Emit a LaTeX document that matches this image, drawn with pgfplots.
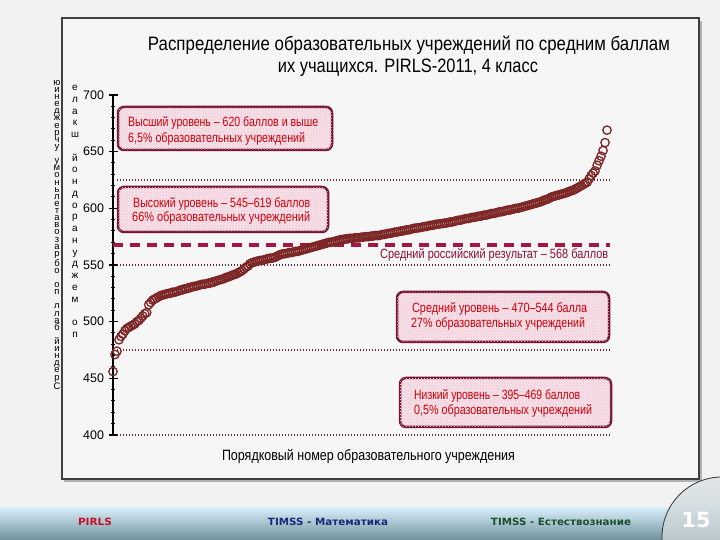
\documentclass[border=0pt]{standalone}
\usepackage{pgfplots}
\pgfplotsset{compat=1.18}
\usepackage{pgfplotstable}
\usepackage{fontspec}
\setmainfont{Liberation Sans}
\newfontfamily\dejavu{DejaVu Sans}
\usetikzlibrary{patterns}
\newcommand\fitw[2]{\resizebox{#1}{\height}{#2}}
\definecolor{bgcol}{RGB}{242,242,242}
\definecolor{framefill}{RGB}{246,246,246}
\definecolor{ptcol}{RGB}{125,38,38}
\definecolor{dotcol}{RGB}{100,45,60}
\definecolor{dashcol}{RGB}{165,22,68}
\definecolor{boxborder}{RGB}{120,18,52}
\definecolor{boxfill}{RGB}{244,212,222}
\definecolor{boxtext}{RGB}{205,0,10}
\definecolor{meancol}{RGB}{140,16,56}
\definecolor{footA}{RGB}{214,237,249}
\definecolor{footB}{RGB}{160,190,200}
\definecolor{footC}{RGB}{112,145,155}
\definecolor{circA}{RGB}{224,230,232}
\definecolor{circB}{RGB}{168,186,192}
\definecolor{pirls}{RGB}{200,16,40}
\definecolor{timssm}{RGB}{26,40,120}
\definecolor{timsse}{RGB}{28,80,44}

\pgfplotstableread[row sep=\\]{
s\\456\\471\\474\\484\\487\\489\\492\\494\\495\\496\\
497\\498\\500\\501\\503\\505\\507\\508\\515\\517\\
519\\520\\521\\522\\523\\523.5\\524\\524.5\\525\\525\\
526\\526\\526.5\\527\\528\\528\\529\\529\\530\\530\\
531\\531\\531.5\\532\\532.5\\533\\533\\533.5\\534\\534\\
535\\535\\536\\536.5\\537\\537.5\\538\\539\\539.5\\540\\
541\\541.5\\542\\543\\544\\545\\546.5\\548\\549\\551\\
552\\552.5\\553\\553.5\\554\\554\\554.5\\555\\555.5\\556\\
556\\556.5\\557\\558\\559\\559.5\\560\\560\\560.5\\561\\
561\\561.5\\562\\562\\562.5\\563\\563.5\\564\\564.5\\565\\
565.5\\566\\566.5\\567\\567.5\\568\\568.5\\569\\569.5\\570\\
570\\570.5\\571\\571.5\\572\\572.5\\572.5\\573\\573\\573.5\\
573.5\\573.5\\574\\574\\574\\574.5\\574.5\\575\\575\\575\\
575.5\\575.5\\576\\576\\576\\576.5\\577\\577\\577.5\\578\\
578\\578.5\\579\\579\\579.5\\580\\580\\580.5\\581\\581\\
581.5\\582\\582.5\\582.5\\583\\583\\583.5\\584\\584\\584.5\\
585\\585\\585.5\\586\\586\\586.5\\586.5\\587\\587\\587.5\\
588\\588\\588.5\\589\\589.5\\589.5\\590\\590.5\\591\\591\\
591.5\\592\\592\\592.5\\593\\593\\593.5\\594\\594\\594.5\\
595\\595.5\\595.5\\596\\596.5\\597\\597\\597.5\\598\\598.5\\
598.5\\599\\599.5\\600\\600\\600.5\\601\\601.5\\602\\602.5\\
603\\603.5\\604\\604.5\\605\\605.5\\606\\607\\607.5\\608\\
609\\610\\610.5\\611\\611.5\\612\\612.5\\613\\613.5\\614\\
615\\615.5\\616\\617\\618\\619\\620\\621\\622\\623\\
626\\629\\631\\633\\638\\642\\646\\651\\658\\669\\
}\scores

\begin{document}
\begin{tikzpicture}
\path[use as bounding box] (0,0) rectangle (720bp,540bp);
\clip (0,0) rectangle (720bp,540bp);
\fill[bgcol] (0,0) rectangle (720bp,540bp);
% footer band
\shade[top color=footA, middle color=footB, bottom color=footC] (0bp,0bp) rectangle (720bp,32bp);
\begin{scope}[x=1bp,y=-1bp,shift={(0bp,540bp)}]
  \fill[black!30] (64,21) rectangle (702,482);
  \filldraw[fill=framefill, draw=black!75, line width=1.2bp] (62,18) rectangle (699,479);
\end{scope}

\begin{axis}[
  at={(113bp,105bp)}, anchor=south west,
  scale only axis, width=497bp, height=340bp,
  xmin=0, xmax=250.5, ymin=400, ymax=700,
  clip=false,
  axis y line*=left, axis x line=none,
  y axis line style={line width=1.8bp, black},
  ytick={400,450,...,700}, minor y tick num=4,
  tick align=center,
  major tick length=9bp, minor tick length=4.5bp,
  every tick/.style={black, line width=1.3bp},
  every minor tick/.append style={line width=1bp},
  /pgf/number format/assume math mode=true,
  yticklabel style={font=\fontsize{12.5}{12.5}\selectfont, xshift=-1bp},
  xtick=\empty,
]
\addplot[dotcol, line width=1.3bp, dash pattern=on 1.2bp off 1.8bp] coordinates {(2,625) (250.5,625)};
\addplot[dotcol, line width=1.3bp, dash pattern=on 1.2bp off 1.8bp] coordinates {(2,550) (250.5,550)};
\addplot[dotcol, line width=1.3bp, dash pattern=on 1.2bp off 1.8bp] coordinates {(2,475) (250.5,475)};
\addplot[dotcol, line width=1.3bp, dash pattern=on 1.2bp off 1.8bp] coordinates {(2,400) (250.5,400)};
\addplot[dashcol, line width=4bp, dash pattern=on 10bp off 7bp] coordinates {(0,568) (250.5,568)};
\addplot[only marks, mark=o, mark size=4.2bp, mark options={draw=ptcol, line width=1.3bp}] table[x expr=\coordindex, y=s] {\scores};
\end{axis}

\begin{scope}[x=1bp,y=-1bp,shift={(0bp,540bp)}]
  % title
  \node[inner sep=0] at (409,45) {\fitw{522bp}{\fontsize{19.5}{20}\selectfont Распределение образовательных учреждений по средним баллам}};
  \node[inner sep=0] at (408,68) {\fitw{260bp}{\fontsize{19.5}{20}\selectfont их учащихся. PIRLS-2011, 4 класс}};
  % boxes
  \tikzset{lvlbox/.style={fill=boxfill, draw=boxborder, line width=2.5bp, rounded corners=6bp,
      postaction={pattern=crosshatch dots, pattern color=white}}}
  \path[lvlbox] (118,107) rectangle (332,150);
  \path[lvlbox] (118,187) rectangle (328,232);
  \path[lvlbox] (397,292) rectangle (609,342);
  \path[lvlbox] (400,378) rectangle (611,427);
  \tikzset{bt/.style={anchor=west, inner sep=0, text=boxtext, font=\fontsize{13.5}{13.5}\selectfont}}
  \node[bt] at (128,123) {\fitw{190bp}{Высший уровень – 620 баллов и выше}};
  \node[bt] at (128,139) {\fitw{177bp}{6,5\% образовательных учреждений}};
  \node[bt] at (133,204) {\fitw{177bp}{Высокий уровень – 545–619 баллов}};
  \node[bt] at (132,218) {\fitw{178bp}{66\% образовательных учреждений}};
  \node[bt] at (412,309) {\fitw{175bp}{Средний уровень – 470–544 балла}};
  \node[bt] at (411,324) {\fitw{174bp}{27\% образовательных учреждений}};
  \node[bt] at (414,396) {\fitw{166bp}{Низкий уровень – 395–469 баллов}};
  \node[bt] at (414,411) {\fitw{178bp}{0,5\% образовательных учреждений}};
  % mean label
  \node[anchor=west, inner sep=0, text=meancol] at (380,255) {\fitw{228bp}{\fontsize{13.5}{13.5}\selectfont Средний российский результат – 568 баллов}};
  % x label
  \node[inner sep=0] at (368.5,457) {\fitw{293bp}{\fontsize{15}{15}\selectfont Порядковый номер образовательного учреждения}};
  % y label (stacked letters, as in the reference)
  \node[anchor=north, inner sep=0, align=center, font=\fontsize{9.5}{7.15}\selectfont] at (57,80)
   {ю\\и\\н\\е\\д\\ж\\е\\р\\ч\\у\\\mbox{}\\у\\м\\о\\н\\ь\\л\\е\\т\\а\\в\\о\\з\\а\\р\\б\\о\\\mbox{}\\о\\п\\\mbox{}\\л\\л\\а\\б\\\mbox{}\\й\\и\\н\\д\\е\\р\\С};
  \node[anchor=north, inner sep=0, align=center, font=\fontsize{10}{11.8}\selectfont] at (75,85)
   {е\\л\\а\\к\\ш\\\mbox{}\\й\\о\\н\\д\\о\\р\\а\\н\\у\\д\\ж\\е\\м\\\mbox{}\\о\\п};
  % footer texts
  \node[inner sep=0, text=pirls] at (95,522) {\fitw{34bp}{\dejavu\bfseries\fontsize{10}{10}\selectfont PIRLS}};
  \node[inner sep=0, text=timssm] at (328,522) {\fitw{120bp}{\dejavu\bfseries\fontsize{10}{10}\selectfont TIMSS - Математика}};
  \node[inner sep=0, text=timsse] at (561,522) {\fitw{140bp}{\dejavu\bfseries\fontsize{10}{10}\selectfont TIMSS - Естествознание}};
\end{scope}
% page-number circle
\shade[top color=circA, bottom color=circB, opacity=0.9] (722bp,3bp) circle (60bp);
\draw[black!80, line width=0.8bp] (722bp,3bp) circle (60bp);
\node[inner sep=0, text=white] at (696bp,20bp) {\dejavu\bfseries\fontsize{21}{21}\selectfont 15};
\end{tikzpicture}
\end{document}
